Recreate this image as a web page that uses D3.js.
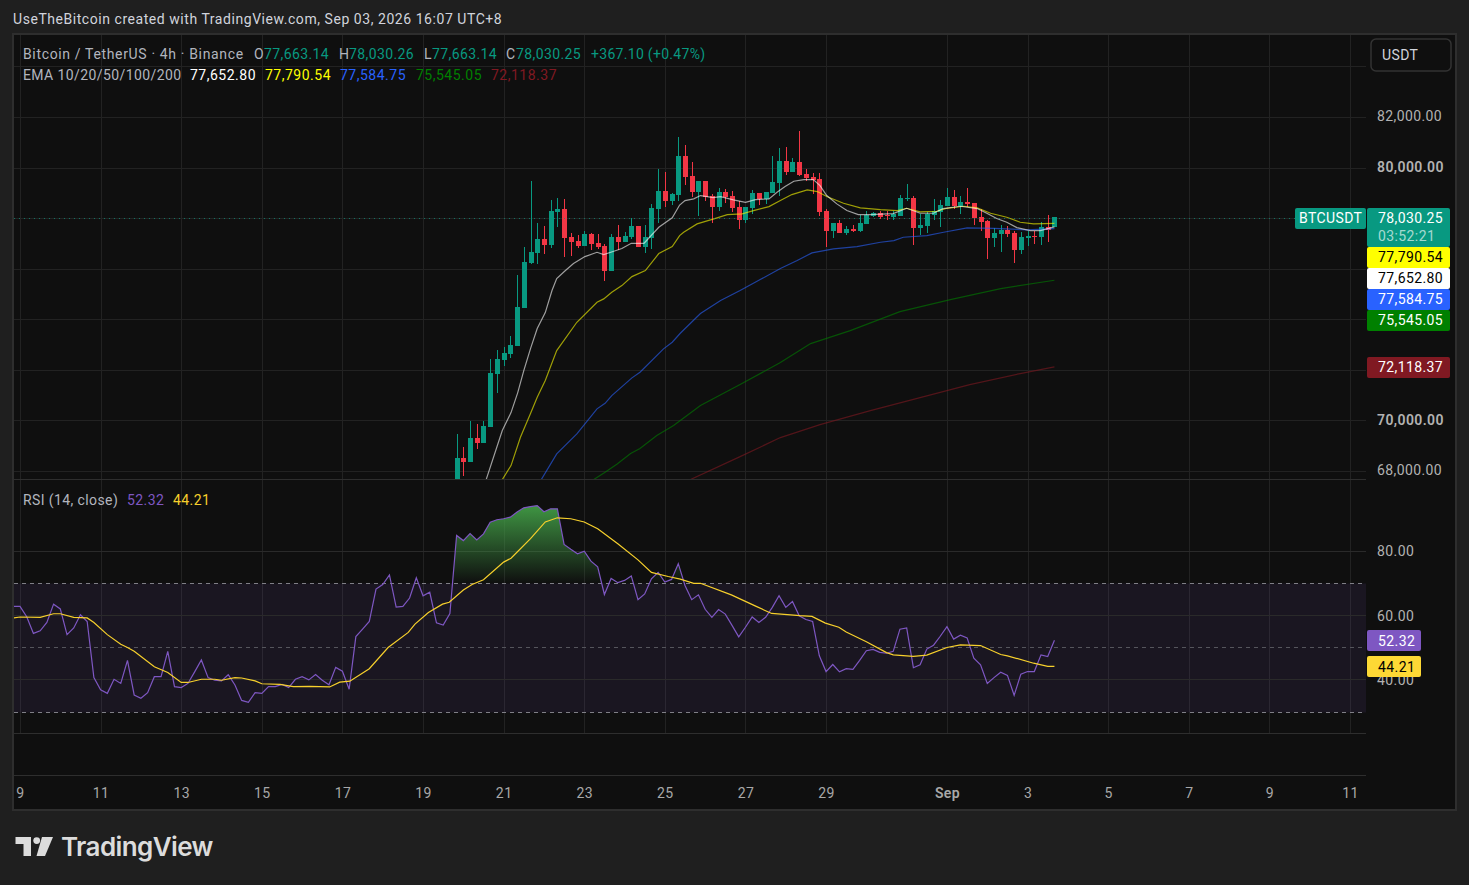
<!DOCTYPE html>
<html>
<head>
<meta charset="utf-8">
<script src="https://cdn.jsdelivr.net/npm/d3@7"></script>
<style>
html, body { margin: 0; padding: 0; background: #1f1f1f; overflow: hidden; }
svg { display: block; }
text { font-family: Roboto, sans-serif; font-size: 14px; letter-spacing: 0.4px; }
</style>
</head>
<body>
<svg id="chart" width="1469" height="885"></svg>
<script>
// candles, 4h bars, oldest first
var opens = [67226,68531,68373,69322,69124,69757,71853,72407,72644,72960,74463,76243,76638,77192,76955,78260,78379,77271,77113,76915,77390,77034,76915,75927,77271,77073,77271,77706,76876,77232,78379,79091,78695,78932,80475,79684,79051,79486,78893,78458,79051,78893,78458,77944,78418,79011,78774,79011,79407,80277,79842,80237,79763,79644,79565,78300,77509,77825,77429,77588,77509,77785,78102,78220,78141,78062,78102,78774,78814,77627,77706,78141,78260,78497,78853,78497,78656,78616,78062,77904,77232,77390,77548,77429,76757,77232,77311,77271,77667,77663.14];
var highs = [69480,68966,69994,69875,69994,72446,72802,72921,73356,75768,76876,79486,77825,77706,78735,78814,78774,77429,77350,77509,77429,77390,76994,77390,77746,77469,78023,77706,77746,78576,79961,79842,79011,81226,80910,80237,79486,79486,78972,79209,79170,79091,78695,78458,79130,79011,79051,80475,80791,80831,80396,81464,79961,79802,79802,78379,77825,77944,77706,77746,78141,78300,78260,78300,78300,78300,78932,79367,78893,78181,78260,78774,78735,79209,79130,78893,79209,78616,78379,77944,77627,77746,77706,77509,77469,77509,77509,77864,78141,78030.26];
var lows = [67000,67819,68373,68887,69124,69757,71101,72169,72486,72960,74463,76203,76203,76599,76836,77667,76480,76520,76836,76915,76757,76797,75531,75927,76757,77073,77192,76876,76638,76797,77825,78458,78537,78695,79328,78853,78102,78695,77825,78300,78616,78260,77588,77825,78181,78537,78576,79011,78893,79723,79842,79684,79486,78972,78102,76876,77232,77429,77350,77469,77469,77785,78062,77983,77944,77944,78102,78695,76955,77350,77429,77944,77667,78497,78379,78181,78458,77746,77509,76401,76876,76678,77271,76243,76599,76915,76994,76955,77073,77663.14];
var closes = [68531,68373,69322,69124,69796,71893,72446,72683,73000,74503,76282,76678,77192,76955,78300,78379,77232,77073,76915,77390,76994,76876,75927,77271,77073,77311,77706,76876,77271,78418,79091,78695,78972,80475,79644,79051,79486,78853,78458,79051,78853,78418,77944,78458,79011,78774,79051,79446,80277,79842,80237,79723,79605,79525,78260,77509,77825,77429,77588,77509,77825,78141,78220,78062,78102,78181,78814,78814,77627,77746,78181,78300,78537,78853,78497,78656,78576,78023,77864,77232,77429,77548,77390,76757,77271,77311,77271,77667,77548,78030.25];
var firstCandleBar = 66;

// moving averages as [candle index, price]
var ema10 = [[3.5,67027],[4.4,67660],[6.8,69599],[8.1,70310],[9.1,71101],[10,71972],[11,72841],[12,73633],[13.2,74265],[14.2,75136],[14.9,75610],[16.2,75927],[17.4,76203],[19.1,76480],[20.9,76650],[21.9,76559],[23.4,76690],[24.6,76797],[26,77006],[27.9,77006],[30.1,77640],[32.1,78011],[33.2,78517],[34,78695],[35.3,78762],[36.3,78893],[37.3,78853],[38.2,78814],[39.3,78853],[41.2,78723],[43,78628],[44.5,78735],[46.5,78762],[47.7,79024],[48.9,79249],[50.2,79459],[51.7,79525],[53.1,79525],[54.1,79288],[55.1,78893],[56.6,78564],[58.1,78300],[59.8,78141],[61.6,78141],[65,78181],[67,78390],[69,78193],[71,78193],[72.4,78379],[75,78470],[77.5,78379],[79,78181],[80.4,77983],[81.9,77837],[83.4,77627],[85.4,77509],[86.9,77509],[89,77652.8]];
var ema20 = [[5.8,67027],[6.8,67660],[8.1,68214],[9.5,69333],[11,70271],[12,70916],[13.2,71576],[14.9,72762],[17.9,73882],[20.9,74673],[21.9,74807],[23.1,75068],[24.6,75333],[26.1,75689],[28.1,75927],[30.1,76599],[32.1,76876],[33.2,77311],[33.8,77441],[35.8,77773],[38.3,77971],[40.3,78141],[42.5,78169],[44.2,78300],[46.5,78458],[48.2,78695],[49.9,78932],[52.2,79118],[53.7,79051],[55.1,78853],[57.6,78588],[60.1,78406],[63.1,78339],[65.6,78300],[67,78390],[69,78248],[71.5,78272],[73,78390],[75.5,78470],[77.5,78406],[79.5,78193],[81.9,78035],[83.9,77837],[85.9,77773],[89,77790.54]];
var ema50 = [[11,67027],[12.6,67660],[14.9,68677],[17.9,69468],[20.9,70457],[22.1,70678],[23.1,70983],[26.1,71683],[27.3,71904],[30.8,72830],[32.1,73091],[33.3,73447],[36.3,74226],[39.3,74740],[42.2,75136],[45.2,75571],[48.2,76006],[50.7,76322],[52.9,76627],[56.1,76785],[59.6,76876],[63.1,77046],[65.1,77113],[66.5,77244],[70,77311],[72.5,77441],[76,77615],[80,77599],[84.9,77536],[89,77584.75]];
var ema100 = [[18.4,67027],[20.4,67660],[22.1,67949],[23.9,68281],[25.9,68689],[27.3,68887],[29.8,69401],[32.3,69796],[33.3,69994],[36.3,70587],[42.2,71418],[48.2,72288],[52.7,73039],[58.6,73553],[66,74305],[73.5,74780],[81,75215],[89,75545.05]];
var ema200 = [[33.3,67463],[34.8,67660],[42.2,68570],[48.2,69322],[54.1,69836],[61.6,70389],[69,70904],[76.4,71418],[83.9,71853],[89,72118.37]];

// rsi per bar, starts at the left edge of the chart
var rsiValues = [62.9,62.9,59.7,54.5,55.3,57.9,63.6,62.1,54.1,56.2,60.3,58.2,40.7,36.9,35.8,40.2,38.9,46.1,35.3,34.3,36.0,41.0,41.0,48.9,37.9,37.6,38.9,42.5,46.2,40.7,39.9,39.7,41.6,38.4,33.6,33.0,36.0,35.8,37.9,37.9,38.6,37.6,40.2,41.0,40.0,41.7,39.9,38.5,43.9,42.7,37.1,53.5,55.8,58.2,68.3,69.7,72.7,62.7,62.9,65.5,71.8,66.2,67.3,57.8,57.1,60.7,85.0,83.4,85.6,83.6,85.5,89.1,89.9,90.2,90.7,92.3,93.6,94.0,94.3,92.4,93.3,93.3,82.2,80.7,79.3,80.1,77.0,75.2,66.6,71.6,70.3,71.0,72.4,65.0,66.8,71.5,73.5,70.5,71.3,76.2,69.4,65.0,66.5,62.0,59.5,61.9,60.5,57.0,53.4,56.4,59.6,57.9,59.5,62.6,66.2,62.6,64.4,60.0,58.8,58.2,47.5,42.6,44.8,42.5,43.5,43.3,46.1,49.1,49.5,48.6,48.3,48.9,55.8,56.2,43.8,44.7,49.6,50.8,53.6,56.6,52.7,53.9,53.1,46.8,44.7,38.9,40.7,42.4,41.4,35.2,41.8,42.6,42.6,47.8,47.3,52.32];
// rsi moving average as [bar, value]
var rsiMa = [[0,59.3],[1,59.6],[4,59.5],[6,60.6],[7,60.6],[9,59.5],[11,59.3],[12,57.9],[14,54.1],[16,51.1],[17,50.1],[18,48.9],[21,44.1],[23,42.3],[25,39.2],[26,39.2],[28,40.2],[30,40.2],[31,39.9],[33,40.7],[34,40.6],[36,39.7],[37,38.8],[39.7,38.6],[41.7,37.9],[44.1,38.0],[47.1,37.8],[48.6,39.3],[50.1,39.6],[53,43.5],[55.8,50.1],[58.8,54.8],[59.8,57.4],[61.8,61.0],[63.9,63.6],[64.9,64.2],[67,68.0],[68.3,69.7],[70,71.2],[73,76.7],[74.1,77.9],[77,84.0],[79.2,89.2],[81,90.5],[83,90.2],[85,89.2],[87,87.1],[90,82.4],[93,77.4],[95,73.5],[97.5,72.2],[99.3,71.4],[101.3,70.1],[102.3,70.1],[106.9,66.5],[110.6,62.9],[112.9,60.7],[117.1,60.0],[118.9,59.8],[120.9,57.7],[122.9,56.4],[124,54.9],[127,51.9],[130,48.5],[131,47.8],[134,47.3],[136,47.7],[139,50.1],[141,50.9],[144,50.7],[147,47.9],[148,47.5],[151.9,45.2],[154,44.2],[155,44.21]];

var priceTicks = [68000,70000,72000,74000,76000,78000,80000,82000,84000];
var priceLabels = [68000,70000,80000,82000];
var rsiTicks = [80,60,40];
var rsiBands = [70,50,30];
var timeBars = [1,13,25,37,49,61,73,85,97,109,121,139,151,163,175,187,199];
var timeLabels = ['9','11','13','15','17','19','21','23','25','27','29','Sep','3','5','7','9','11'];

var lastPrice = 78030.25;
var emaLabels = [
    {value: 77790.54, fill: '#ffff00', text: '#000000'},
    {value: 77652.80, fill: '#ffffff', text: '#000000'},
    {value: 77584.75, fill: '#2962ff', text: '#ffffff'},
    {value: 75545.05, fill: '#008000', text: '#ffffff'},
    {value: 72118.37, fill: '#801922', text: '#ffffff'}
];

var green = '#089981', red = '#f23645';
var paneLeft = 14, paneRight = 1366, mainBottom = 479, rsiBottom = 733, stripBottom = 775, frameBottom = 810;

var x = d3.scaleLinear().domain([1, 199]).range([20, 1350]);
var y = d3.scaleLinear().domain([82000, 68000]).range([117, 471]);
var yRsi = d3.scaleLinear().domain([80, 40]).range([551.5, 679.9]);
var fmt = d3.format(',.2f');

var svg = d3.select('#chart');
var defs = svg.append('defs');

function crisp(v) {
    return Math.floor(v) + 0.5;
}

function addClip(id, x0, y0, x1, y1) {
    defs.append('clipPath').attr('id', id).append('rect')
        .attr('x', x0).attr('y', y0).attr('width', x1 - x0).attr('height', y1 - y0);
}

addClip('clip-main', paneLeft, 35, paneRight, mainBottom);
addClip('clip-rsi', paneLeft, mainBottom + 1, paneRight, rsiBottom);
addClip('clip-over', paneLeft, mainBottom + 1, paneRight, yRsi(70));

var obGradient = defs.append('linearGradient').attr('id', 'ob-fill')
    .attr('gradientUnits', 'userSpaceOnUse')
    .attr('x1', 0).attr('x2', 0).attr('y1', yRsi(95)).attr('y2', yRsi(70));
obGradient.append('stop').attr('offset', 0).attr('stop-color', '#43a047').attr('stop-opacity', 0.95);
obGradient.append('stop').attr('offset', 1).attr('stop-color', '#43a047').attr('stop-opacity', 0);

function drawFrame() {
    svg.append('rect').attr('x', 0).attr('y', 0).attr('width', 1469).attr('height', 885).attr('fill', '#1f1f1f');
    svg.append('rect').attr('x', 13).attr('y', 34).attr('width', 1443).attr('height', frameBottom - 34)
        .attr('fill', '#0f0f0f').attr('stroke', '#2e2e2e').attr('stroke-width', 2);
}

function drawGrid() {
    var g = svg.append('g').attr('stroke', '#222222').attr('stroke-width', 1);
    g.selectAll('.vgrid').data(timeBars).enter().append('line')
        .attr('x1', function(d) { return Math.round(x(d)) + 0.5; })
        .attr('x2', function(d) { return Math.round(x(d)) + 0.5; })
        .attr('y1', 35).attr('y2', rsiBottom);
    g.selectAll('.hgrid').data(priceTicks).enter().append('line')
        .attr('x1', paneLeft).attr('x2', paneRight)
        .attr('y1', function(d) { return Math.round(y(d)) + 0.5; })
        .attr('y2', function(d) { return Math.round(y(d)) + 0.5; });
}

function drawCandles() {
    var g = svg.append('g').attr('clip-path', 'url(#clip-main)');
    var candles = g.selectAll('.candle').data(d3.range(opens.length)).enter().append('g');
    function bar(d) { return Math.round(x(firstCandleBar + d)); }
    function colour(d) { return closes[d] >= opens[d] ? green : red; }
    function top(d) { return Math.round(y(Math.max(opens[d], closes[d]))); }
    function bottom(d) { return Math.round(y(Math.min(opens[d], closes[d]))); }
    candles.append('line')
        .attr('x1', function(d) { return bar(d) + 0.5; })
        .attr('x2', function(d) { return bar(d) + 0.5; })
        .attr('y1', function(d) { return Math.round(y(highs[d])); })
        .attr('y2', function(d) { return Math.round(y(lows[d])); })
        .attr('stroke', colour);
    candles.append('rect')
        .attr('x', function(d) { return bar(d) - 2; })
        .attr('width', 5)
        .attr('y', top)
        .attr('height', function(d) { return Math.max(1, bottom(d) - top(d)); })
        .attr('fill', colour);
}

function drawEmas() {
    var g = svg.append('g').attr('clip-path', 'url(#clip-main)').attr('fill', 'none');
    var line = d3.line()
        .x(function(d) { return x(firstCandleBar + d[0]); })
        .y(function(d) { return y(d[1]); });
    var series = [[ema200, '#801922'], [ema100, '#008000'], [ema50, '#2962ff'], [ema20, '#ffff00'], [ema10, '#ffffff']];
    series.forEach(function(s) {
        g.append('path').attr('d', line(s[0])).attr('stroke', s[1])
            .attr('stroke-width', 1.2).attr('stroke-opacity', 0.6);
    });
    svg.append('line').attr('x1', paneLeft).attr('x2', 1295)
        .attr('y1', Math.ceil(y(lastPrice)) + 0.5).attr('y2', Math.ceil(y(lastPrice)) + 0.5)
        .attr('stroke', green).attr('stroke-opacity', 0.7).attr('stroke-dasharray', '1 4');
}

function drawRsi() {
    svg.append('rect').attr('x', paneLeft).attr('width', paneRight - paneLeft)
        .attr('y', crisp(yRsi(70))).attr('height', crisp(yRsi(30)) - crisp(yRsi(70)))
        .attr('fill', '#7e57c2').attr('fill-opacity', 0.1);

    var hgrid = svg.append('g').attr('stroke', '#2a2a2a');
    hgrid.selectAll('line').data(rsiTicks).enter().append('line')
        .attr('x1', paneLeft).attr('x2', paneRight)
        .attr('y1', function(d) { return crisp(yRsi(d)); })
        .attr('y2', function(d) { return crisp(yRsi(d)); });

    var bands = svg.append('g').attr('stroke-dasharray', '4 4');
    bands.selectAll('line').data(rsiBands).enter().append('line')
        .attr('x1', paneLeft).attr('x2', paneRight)
        .attr('y1', function(d) { return crisp(yRsi(d)); })
        .attr('y2', function(d) { return crisp(yRsi(d)); })
        .attr('stroke', function(d) { return d === 50 ? '#55555c' : '#7f7f86'; });

    var area = d3.area()
        .x(function(d, i) { return x(i); })
        .y0(yRsi(70))
        .y1(function(d) { return yRsi(d); });
    svg.append('path').attr('d', area(rsiValues)).attr('fill', 'url(#ob-fill)')
        .attr('clip-path', 'url(#clip-over)');

    var line = d3.line()
        .x(function(d, i) { return x(i); })
        .y(function(d) { return yRsi(d); });
    svg.append('path').attr('d', line(rsiValues)).attr('fill', 'none')
        .attr('stroke', '#7e57c2').attr('stroke-width', 1.2).attr('clip-path', 'url(#clip-rsi)');

    var maLine = d3.line()
        .x(function(d) { return x(d[0]); })
        .y(function(d) { return yRsi(d[1]); });
    svg.append('path').attr('d', maLine(rsiMa)).attr('fill', 'none')
        .attr('stroke', '#f7d02c').attr('stroke-width', 1.2).attr('clip-path', 'url(#clip-rsi)');
}

function drawSeparators() {
    var g = svg.append('g').attr('stroke', '#2e2e2e');
    [mainBottom, rsiBottom, stripBottom].forEach(function(v) {
        g.append('line').attr('x1', paneLeft).attr('x2', paneRight)
            .attr('y1', v + 0.5).attr('y2', v + 0.5);
    });
}

function styleAxis(g, colour) {
    g.select('.domain').remove();
    g.selectAll('.tick line').remove();
    g.selectAll('text').attr('fill', colour).style('font-size', '14px');
}

function drawAxes() {
    var priceAxis = d3.axisRight(y).tickValues(priceLabels).tickFormat(fmt).tickSize(0).tickPadding(11);
    var pg = svg.append('g').attr('transform', 'translate(' + paneRight + ',-0.5)').call(priceAxis);
    styleAxis(pg, '#b2b2b2');
    pg.selectAll('text').filter(function(d) { return d % 10000 === 0; }).style('font-weight', 600);

    var rsiAxis = d3.axisRight(yRsi).tickValues(rsiTicks).tickFormat(d3.format('.2f')).tickSize(0).tickPadding(11);
    var rg = svg.append('g').attr('transform', 'translate(' + paneRight + ',0)').call(rsiAxis);
    styleAxis(rg, '#b2b2b2');

    var timeAxis = d3.axisBottom(x).tickValues(timeBars)
        .tickFormat(function(d, i) { return timeLabels[i]; }).tickSize(0).tickPadding(13);
    var tg = svg.append('g').attr('transform', 'translate(0,' + stripBottom + ')').call(timeAxis);
    styleAxis(tg, '#a8a8a8');
    tg.selectAll('text').filter(function(d, i) { return timeLabels[i] === 'Sep'; })
        .style('font-weight', 600);
}

function labelBox(x0, top, width, height, fill) {
    svg.append('rect').attr('x', x0).attr('y', top).attr('width', width).attr('height', height)
        .attr('rx', 2).attr('fill', fill);
}

function labelText(x0, yc, s, fill) {
    return svg.append('text').attr('x', x0).attr('y', yc + 5).attr('fill', fill).text(s);
}

function drawPriceLabels() {
    var lastY = Math.ceil(y(lastPrice));
    labelBox(1295, lastY - 10, 71, 21, green);
    labelText(1299, lastY, 'BTCUSDT', '#ffffff');
    var bottom = lastY - 10 + 39;
    labelBox(1367, lastY - 10, 83, 39, green);
    labelText(1378, lastY, fmt(lastPrice), '#ffffff');
    labelText(1378, lastY + 18, '03:52:21', 'rgba(255,255,255,0.65)');
    emaLabels.forEach(function(d) {
        var top = Math.max(Math.round(y(d.value) - 10), bottom);
        labelBox(1367, top, 83, 21, d.fill);
        labelText(1378, top + 9.5, fmt(d.value), d.text);
        bottom = top + 21;
    });
    var rsiLast = rsiValues[rsiValues.length - 1], maLast = rsiMa[rsiMa.length - 1][1];
    labelBox(1367, Math.round(yRsi(rsiLast) - 10), 54, 21, '#7e57c2');
    labelText(1378, Math.round(yRsi(rsiLast) - 10) + 10.5, rsiLast.toFixed(2), '#ffffff');
    labelBox(1367, Math.round(yRsi(maLast) - 10), 54, 21, '#fdd835');
    labelText(1378, Math.round(yRsi(maLast) - 10) + 10.5, maLast.toFixed(2), '#000000');

    svg.append('rect').attr('x', 1371).attr('y', 39).attr('width', 80).attr('height', 32).attr('rx', 5)
        .attr('fill', '#0f0f0f').attr('stroke', '#333333').attr('stroke-width', 1.5);
    labelText(1382, 55, 'USDT', '#d1d4dc');
}

function legendRun(row, parts) {
    parts.forEach(function(p) {
        var t = svg.append('text').attr('x', p[0]).attr('y', row).attr('fill', p[2]).text(p[1]);
        if (p[3]) {
            t.style('letter-spacing', p[3]);
        }
    });
}

function drawLegends() {
    var grey = '#b2b5be', up = '#089981';
    svg.append('text').attr('x', 13).attr('y', 24).attr('fill', '#d1d4dc')
        .style('letter-spacing', '0.55px')
        .text('UseTheBitcoin created with TradingView.com, Sep 03, 2026 16:07 UTC+8');
    legendRun(59, [
        [23, 'Bitcoin / TetherUS · 4h · Binance', grey, '0.65px'],
        [254, 'O', grey], [264, '77,663.14', up],
        [339, 'H', grey], [349, '78,030.26', up],
        [424, 'L', grey], [432, '77,663.14', up],
        [506, 'C', grey], [516, '78,030.25', up],
        [591, '+367.10 (+0.47%)', up, '0.3px']
    ]);
    legendRun(80, [
        [23, 'EMA 10/20/50/100/200', grey],
        [190, '77,652.80', '#ffffff', '0.5px'], [265, '77,790.54', '#ffff00', '0.5px'], [340, '77,584.75', '#2962ff', '0.5px'],
        [416, '75,545.05', '#008000', '0.5px'], [491, '72,118.37', '#801922', '0.5px']
    ]);
    legendRun(505, [
        [23, 'RSI (14, close)', grey], [127, '52.32', '#7e57c2'], [173, '44.21', '#f7d02c']
    ]);
}

function drawLogo() {
    var g = svg.append('g').attr('fill', '#dcdcdc');
    g.append('path').attr('d', 'M15.5 837H31V856H23.5V844H15.5Z');
    g.append('circle').attr('cx', 36.7).attr('cy', 840.6).attr('r', 3.4);
    g.append('path').attr('d', 'M42 837H53L45 856H36.5Z');
    g.append('text').attr('x', 61).attr('y', 856).style('font-family', 'Inter, sans-serif')
        .style('font-size', '26px').style('font-weight', 600).style('letter-spacing', '-0.6px')
        .text('TradingView');
}

drawFrame();
drawGrid();
drawRsi();
drawCandles();
drawEmas();
drawSeparators();
drawAxes();
drawPriceLabels();
drawLegends();
drawLogo();
</script>
</body>
</html>
